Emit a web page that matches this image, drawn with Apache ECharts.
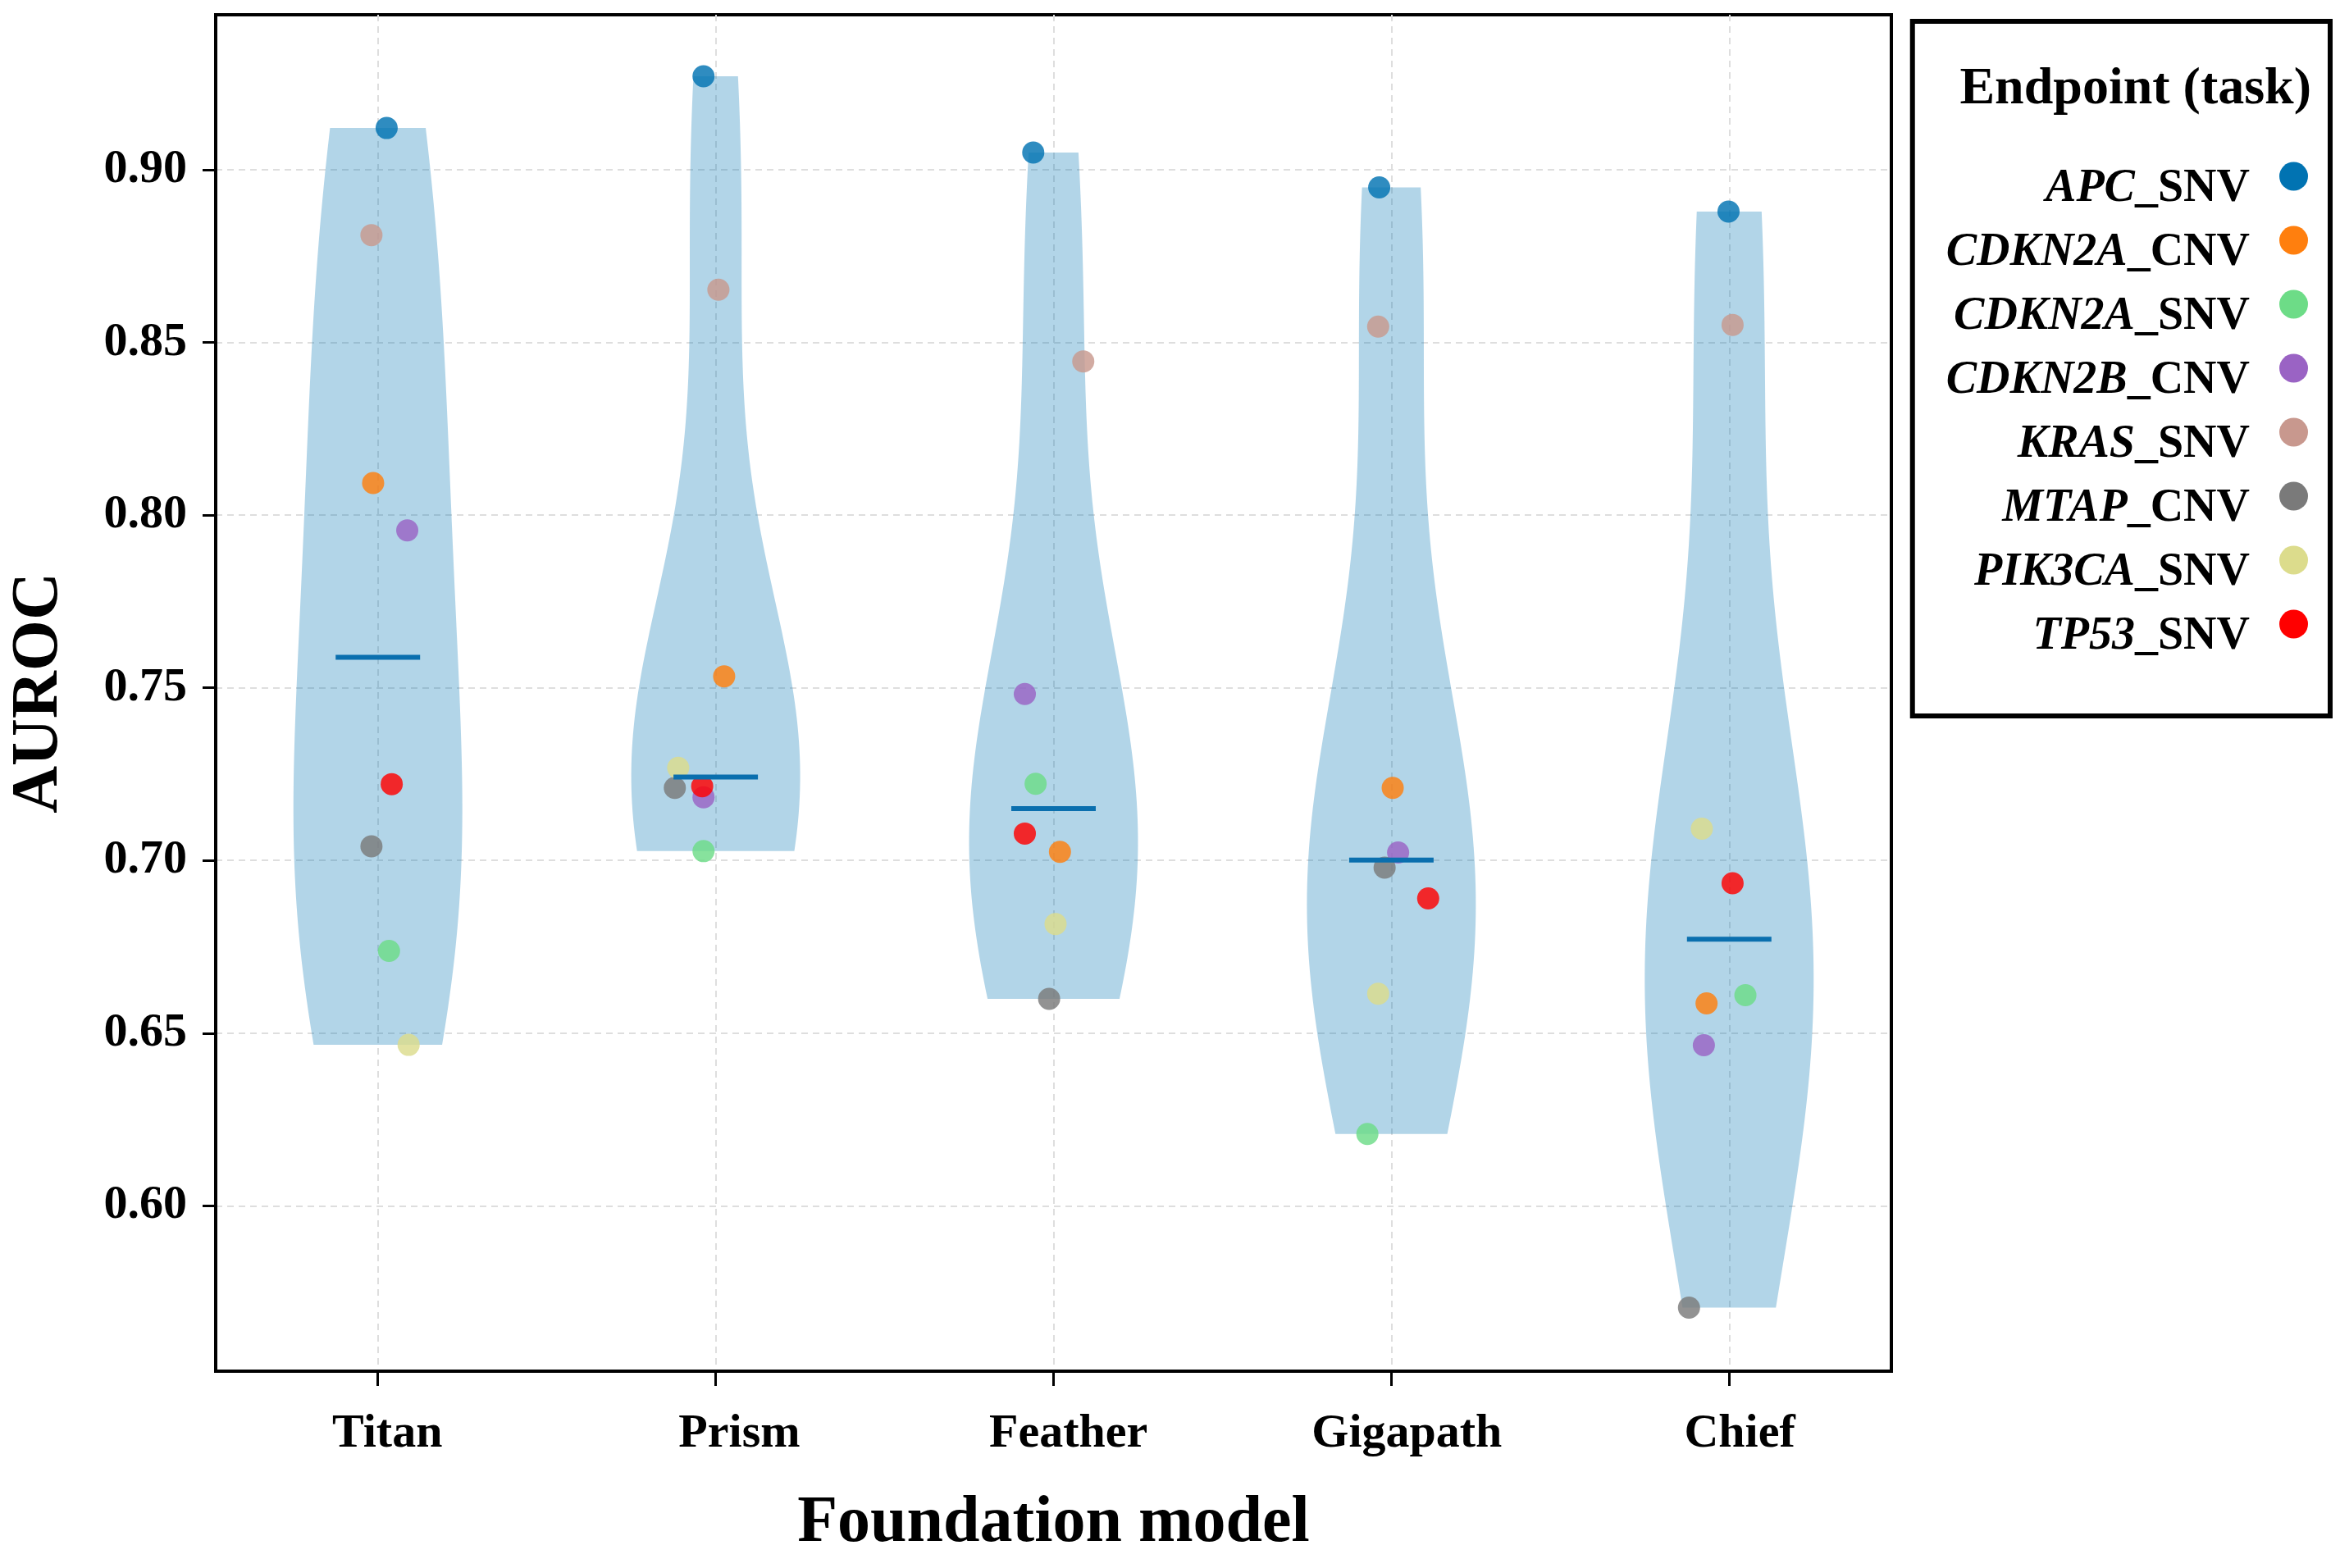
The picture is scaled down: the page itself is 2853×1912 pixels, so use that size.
<!DOCTYPE html>
<html>
<head>
<meta charset="utf-8">
<script src="https://cdn.jsdelivr.net/npm/echarts@6/dist/echarts.min.js"></script>
<style>
html,body{margin:0;padding:0;background:#fff;}
#chart{width:2853px;height:1912px;}
</style>
</head>
<body>
<div id="chart"></div>
<script>
// ---------------- DATA ----------------
const models = ['Titan', 'Prism', 'Feather', 'Gigapath', 'Chief'];
const endpointNames = ['APC_SNV', 'CDKN2A_CNV', 'CDKN2A_SNV', 'CDKN2B_CNV', 'KRAS_SNV', 'MTAP_CNV', 'PIK3CA_SNV', 'TP53_SNV'];
const yTickValues = [0.60, 0.65, 0.70, 0.75, 0.80, 0.85, 0.90];

// AUROC per endpoint, in model order (Titan, Prism, Feather, Gigapath, Chief)
const aurocAPC_SNV    = [0.9121, 0.9271, 0.9050, 0.8949, 0.8879];
const aurocCDKN2A_CNV = [0.8093, 0.7533, 0.7025, 0.7210, 0.6586];
const aurocCDKN2A_SNV = [0.6738, 0.7027, 0.7222, 0.6208, 0.6610];
const aurocCDKN2B_CNV = [0.7956, 0.7183, 0.7482, 0.7023, 0.6465];
const aurocKRAS_SNV   = [0.8811, 0.8653, 0.8445, 0.8546, 0.8551];
const aurocMTAP_CNV   = [0.7041, 0.7210, 0.6599, 0.6979, 0.5705];
const aurocPIK3CA_SNV = [0.6466, 0.7268, 0.6816, 0.6614, 0.7092];
const aurocTP53_SNV   = [0.7221, 0.7215, 0.7078, 0.6890, 0.6934];

// horizontal jitter of each dot (in category units)
const jitterAPC_SNV    = [0.026, -0.036, -0.060, -0.036, -0.002];
const jitterCDKN2A_CNV = [-0.014, 0.025, 0.019, 0.004, -0.067];
const jitterCDKN2A_SNV = [0.033, -0.036, -0.053, -0.071, 0.048];
const jitterCDKN2B_CNV = [0.087, -0.036, -0.085, 0.020, -0.075];
const jitterKRAS_SNV   = [-0.019, 0.008, 0.088, -0.039, 0.010];
const jitterMTAP_CNV   = [-0.019, -0.121, -0.013, -0.020, -0.119];
const jitterPIK3CA_SNV = [0.091, -0.111, 0.006, -0.039, -0.081];
const jitterTP53_SNV   = [0.041, -0.040, -0.085, 0.109, 0.010];

// ---------------- STYLE ----------------
const endpointColors = ['#0173b2', '#ff7f0e', '#6ddc87', '#9a63c4', '#c8988e', '#7a7a7a', '#dcdc8c', '#ff0000'];
const labelShift = [0.028, 0.070, 0.044, 0.046, 0.031]; // x-label offsets relative to ticks
const SERIF = '"Liberation Serif", "DejaVu Serif", serif';

const aurocs = [aurocAPC_SNV, aurocCDKN2A_CNV, aurocCDKN2A_SNV, aurocCDKN2B_CNV,
                aurocKRAS_SNV, aurocMTAP_CNV, aurocPIK3CA_SNV, aurocTP53_SNV];
const jitters = [jitterAPC_SNV, jitterCDKN2A_CNV, jitterCDKN2A_SNV, jitterCDKN2B_CNV,
                 jitterKRAS_SNV, jitterMTAP_CNV, jitterPIK3CA_SNV, jitterTP53_SNV];

// values grouped by model
const modelValues = models.map((m, i) => aurocs.map(a => a[i]));

function median(arr) {
  const s = arr.slice().sort((a, b) => a - b);
  const n = s.length;
  return n % 2 ? s[(n - 1) / 2] : (s[n / 2 - 1] + s[n / 2]) / 2;
}

// Gaussian KDE (Scott's rule), evaluated between min and max, like matplotlib violinplot
function violinProfile(vals, halfWidthMax, npts) {
  const n = vals.length;
  const mean = vals.reduce((a, b) => a + b, 0) / n;
  const sd = Math.sqrt(vals.reduce((a, b) => a + (b - mean) * (b - mean), 0) / (n - 1));
  const bw = sd * Math.pow(n, -1 / 5);
  const lo = Math.min(...vals), hi = Math.max(...vals);
  const ys = [], ds = [];
  for (let k = 0; k < npts; k++) {
    const y = lo + (hi - lo) * k / (npts - 1);
    let d = 0;
    vals.forEach(v => { const z = (y - v) / bw; d += Math.exp(-0.5 * z * z); });
    ys.push(y); ds.push(d);
  }
  const dmax = Math.max(...ds);
  return ys.map((y, k) => [y, halfWidthMax * ds[k] / dmax]);
}

const violinSeries = {
  type: 'custom',
  name: 'violin',
  z: 1,
  silent: true,
  data: models.map((m, i) => [i]),
  renderItem: function (params, api) {
    const i = api.value(0);
    const prof = violinProfile(modelValues[i], 0.25, 100);
    const left = prof.map(p => api.coord([i - p[1], p[0]]));
    const right = prof.slice().reverse().map(p => api.coord([i + p[1], p[0]]));
    return {
      type: 'polygon',
      shape: { points: left.concat(right) },
      style: { fill: 'rgba(0,115,178,0.30)', stroke: 'none' }
    };
  }
};

const medianSeries = {
  type: 'custom',
  name: 'median',
  z: 5,
  silent: true,
  data: models.map((m, i) => [i, median(modelValues[i])]),
  renderItem: function (params, api) {
    const i = api.value(0), med = api.value(1);
    const p1 = api.coord([i - 0.125, med]);
    const p2 = api.coord([i + 0.125, med]);
    return {
      type: 'line',
      shape: { x1: p1[0], y1: p1[1], x2: p2[0], y2: p2[1] },
      style: { stroke: '#0a6fae', lineWidth: 6 }
    };
  }
};

const scatterSeries = endpointNames.map((name, e) => ({
  type: 'scatter',
  name: name,
  z: 3,
  symbol: 'circle',
  symbolSize: 27,
  itemStyle: { color: endpointColors[e], opacity: 0.82 },
  data: models.map((m, i) => [i + jitters[e][i], aurocs[e][i]])
}));

const gridLine = { show: true, lineStyle: { color: '#dedede', width: 2, type: [8, 6] } };

const option = {
  backgroundColor: '#ffffff',
  animation: false,
  title: {
    text: 'Endpoint (task)',
    right: 35, top: 77, padding: 0, z: 10,
    textStyle: { fontFamily: SERIF, fontWeight: 'bold', fontSize: 64, color: '#000' }
  },
  legend: {
    data: endpointNames,
    orient: 'vertical',
    align: 'right',
    right: 12, top: 26,
    icon: 'circle',
    itemWidth: 35, itemHeight: 35,
    itemGap: -10,
    padding: [145, 27, 68, 41],
    borderColor: '#000', borderWidth: 6,
    backgroundColor: '#fff',
    itemStyle: { opacity: 1 },
    formatter: function (name) {
      const parts = name.split('_');
      return '{g|' + parts[0] + '}{s|_' + parts[1] + '}';
    },
    textStyle: {
      color: '#000',
      rich: {
        g: { fontFamily: SERIF, fontStyle: 'italic', fontWeight: 'bold', fontSize: 56, lineHeight: 56, color: '#000', padding: [32, 0, 0, 0] },
        s: { fontFamily: SERIF, fontWeight: 'bold', fontSize: 56, lineHeight: 56, color: '#000', padding: [32, 31, 0, 0] }
      }
    }
  },
  grid: {
    left: 261, right: 547, top: 18, bottom: 240,
    show: true, borderColor: '#000', borderWidth: 4, backgroundColor: 'transparent'
  },
  xAxis: {
    type: 'value',
    min: -0.48, max: 4.48,
    name: 'Foundation model',
    nameLocation: 'middle',
    nameGap: 146,
    nameTextStyle: { fontFamily: SERIF, fontWeight: 'bold', fontSize: 80, color: '#000' },
    axisLine: { show: true, onZero: false, lineStyle: { color: '#000', width: 4 } },
    axisTick: { show: true, customValues: [0, 1, 2, 3, 4], length: 18, lineStyle: { color: '#000', width: 3 } },
    axisLabel: {
      customValues: models.map((m, i) => i + labelShift[i]),
      formatter: function (v) { return models[Math.round(v)]; },
      margin: 48,
      fontFamily: SERIF, fontWeight: 'bold', fontSize: 58, color: '#000'
    },
    splitLine: gridLine
  },
  yAxis: {
    type: 'value',
    min: 0.5521, max: 0.9449,
    name: 'AUROC',
    nameLocation: 'middle',
    nameGap: 175,
    nameTextStyle: { fontFamily: SERIF, fontWeight: 'bold', fontSize: 80, color: '#000' },
    axisLine: { show: true, onZero: false, lineStyle: { color: '#000', width: 4 } },
    axisTick: { show: true, customValues: yTickValues, length: 16, lineStyle: { color: '#000', width: 3 } },
    axisLabel: {
      customValues: yTickValues,
      formatter: function (v) { return v.toFixed(2); },
      margin: 35,
      fontFamily: SERIF, fontWeight: 'bold', fontSize: 58, color: '#000'
    },
    splitLine: gridLine
  },
  series: [violinSeries].concat(scatterSeries).concat([medianSeries])
};

const chart = echarts.init(document.getElementById('chart'), null, { renderer: 'canvas' });
chart.setOption(option);
</script>
</body>
</html>
